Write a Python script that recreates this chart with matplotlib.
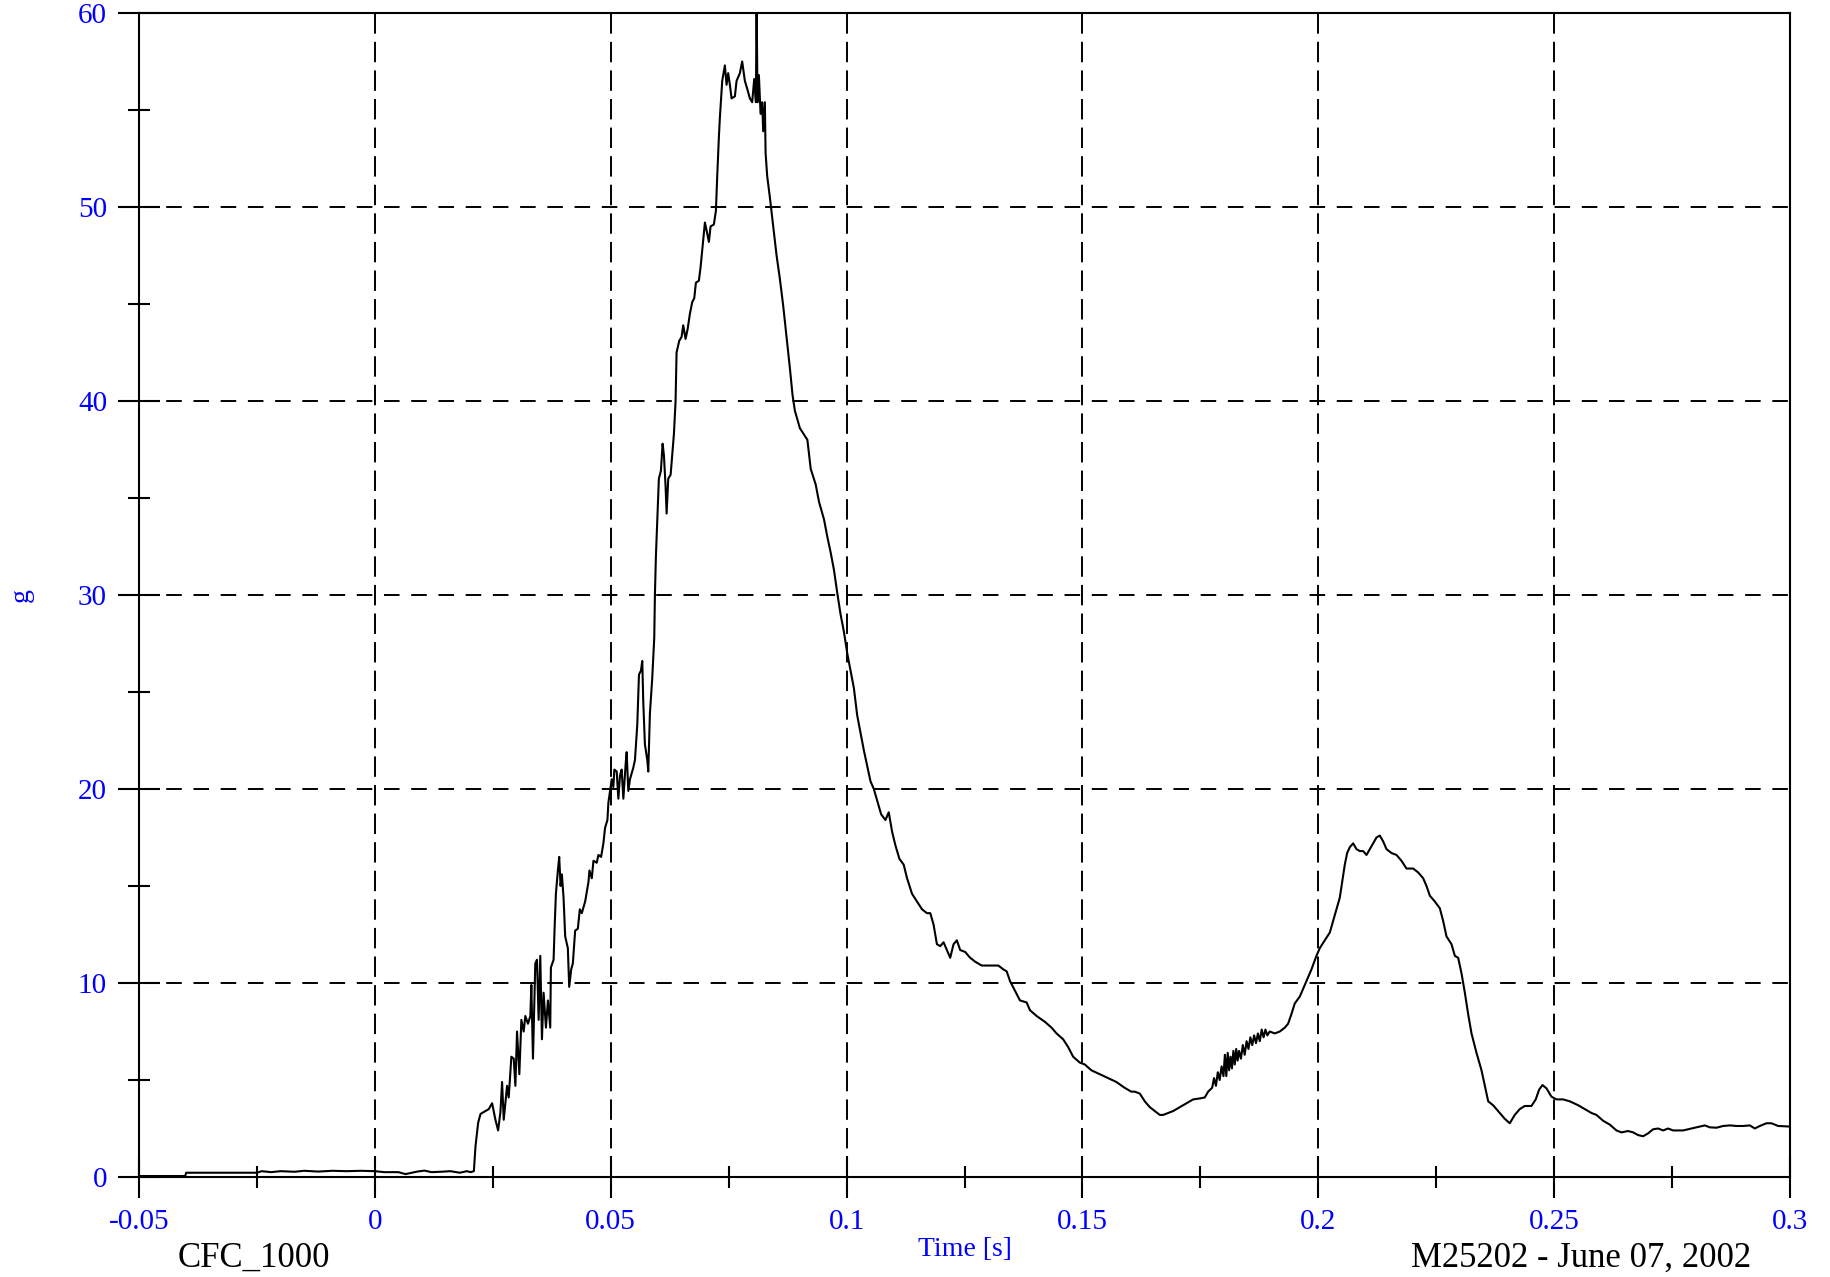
# Crash pulse trace (CFC_1000 filtered), g vs time

import numpy as np
import matplotlib.pyplot as plt
from matplotlib.ticker import MultipleLocator, FuncFormatter

plt.rcParams['font.family'] = ['Liberation Serif', 'DejaVu Serif']

t_base = [-0.05, -0.0402, -0.0400, -0.025, -0.024, -0.022, -0.020, -0.017, -0.015,
          -0.012, -0.009, -0.006, -0.003, 0.0, 0.002, 0.005, 0.0065, 0.009, 0.0105,
          0.012, 0.014, 0.016, 0.018, 0.0195, 0.0203]
g_base = [0.05, 0.05, 0.22, 0.22, 0.3, 0.25, 0.3, 0.27, 0.32,
          0.28, 0.32, 0.3, 0.32, 0.3, 0.25, 0.25, 0.15, 0.28, 0.33,
          0.25, 0.27, 0.3, 0.22, 0.3, 0.25]

t_rise = [0.02099, 0.02134, 0.0219, 0.0224, 0.02415, 0.02486, 0.02556, 0.02613, 0.02662,
          0.02697, 0.02732, 0.02803, 0.02838, 0.02894, 0.02944, 0.02979, 0.03014, 0.03063,
          0.03106, 0.03155, 0.0319, 0.03246, 0.03296, 0.03317, 0.03352, 0.03401, 0.03437,
          0.03472, 0.03507, 0.03542, 0.03577, 0.03627, 0.03669, 0.03718, 0.03732, 0.03789,
          0.0381, 0.03838, 0.0388, 0.03908, 0.03937, 0.03965, 0.04, 0.04035, 0.04091,
          0.0412, 0.04162, 0.04197, 0.04246, 0.04303, 0.04345, 0.04387, 0.04458, 0.04528,
          0.04549, 0.04599, 0.04634, 0.04704, 0.04739, 0.04796, 0.04845, 0.0488, 0.0493,
          0.04951, 0.04986, 0.05021, 0.05056, 0.05077, 0.05127, 0.05162, 0.05197, 0.05232,
          0.05268, 0.05317, 0.05338, 0.05373, 0.05408, 0.05479, 0.05514, 0.05563, 0.05599,
          0.05641, 0.05669, 0.0569, 0.05725, 0.05775, 0.05796, 0.05831, 0.0588, 0.05923]
g_rise = [0.3, 1.6, 2.8, 3.25, 3.5, 3.8, 2.95, 2.4, 3.35,
          4.9, 2.95, 4.7, 4.1, 6.2, 6.1, 4.7, 7.5, 5.3,
          8.1, 7.5, 8.3, 7.9, 8.3, 9.9, 6.1, 11.0, 11.2,
          8.1, 11.4, 7.1, 9.5, 7.7, 9.1, 7.7, 10.8, 11.2,
          12.8, 14.6, 15.8, 16.5, 15.0, 15.6, 14.4, 12.4, 11.8,
          9.8, 10.7, 11.0, 12.7, 12.8, 13.8, 13.6, 14.2, 15.2,
          15.8, 15.4, 16.3, 16.2, 16.6, 16.5, 17.2, 18.0, 18.4,
          19.3, 19.9, 20.5, 20.1, 21.0, 20.9, 19.5, 20.7, 21.0,
          19.5, 21.3, 21.9, 19.9, 20.5, 21.1, 21.5, 23.3, 25.9,
          26.1, 26.6, 24.5, 22.3, 21.5, 20.9, 23.9, 25.7, 27.8]

t_peak = [0.05937, 0.05958, 0.05986, 0.06021, 0.06064, 0.061, 0.06128, 0.06163, 0.06185,
          0.0622, 0.0627, 0.06304, 0.0634, 0.06375, 0.06396, 0.06452, 0.06502, 0.06537,
          0.06587, 0.0663, 0.06679, 0.06728, 0.06771, 0.06806, 0.06869, 0.06905, 0.06948,
          0.06997, 0.07032, 0.07081, 0.07117, 0.07187, 0.0723, 0.07258, 0.07293, 0.07314,
          0.07364, 0.0742, 0.07456, 0.0749, 0.07526, 0.07562, 0.07632, 0.07668, 0.07738,
          0.07787, 0.07844, 0.07893, 0.0795, 0.07999, 0.08042, 0.08078, 0.08092, 0.08113,
          0.08141, 0.08177, 0.08211, 0.08232, 0.08268, 0.08283, 0.08317, 0.08374, 0.08444,
          0.08516, 0.08586, 0.08657, 0.08728, 0.08798, 0.08855, 0.08904]
g_peak = [30.0, 32.0, 33.8, 36.0, 36.4, 37.8, 37.2, 35.6, 34.2,
          36.0, 36.2, 37.2, 38.3, 40.0, 42.5, 43.1, 43.3, 43.9,
          43.2, 43.7, 44.5, 45.1, 45.3, 46.1, 46.2, 46.9, 48.0,
          49.2, 48.8, 48.2, 49.0, 49.1, 49.8, 51.6, 53.6, 54.6,
          56.5, 57.3, 56.3, 56.9, 56.3, 55.6, 55.7, 56.5, 56.9,
          57.5, 56.5, 56.1, 55.6, 55.4, 56.6, 55.4, 60.5, 55.4,
          56.8, 54.8, 55.4, 53.9, 55.4, 52.8, 51.6, 50.5, 49.0,
          47.5, 46.3, 44.9, 43.3, 41.7, 40.3, 39.5]

t_fall = [0.0901, 0.09169, 0.0924, 0.09345, 0.09416, 0.09521, 0.09592, 0.09662, 0.09732,
          0.09803, 0.09873, 0.09944, 0.10014, 0.10085, 0.10155, 0.10225, 0.10296, 0.10366,
          0.10437, 0.10507, 0.10578, 0.10648, 0.10732, 0.10824, 0.10894, 0.10965, 0.11035,
          0.1112, 0.11211, 0.11282, 0.11387, 0.11493, 0.11599, 0.11704, 0.11775, 0.11845,
          0.11915, 0.11986, 0.12056, 0.12127, 0.12197, 0.12268, 0.12338, 0.12408, 0.12514,
          0.1262, 0.12725, 0.12866, 0.13077, 0.13218, 0.13324, 0.13394, 0.13465, 0.1357,
          0.13676, 0.13817, 0.13887, 0.14028, 0.14204, 0.14345, 0.14451, 0.14591, 0.14697,
          0.14803, 0.14943, 0.1505, 0.1519, 0.15366, 0.15542, 0.15718, 0.15894, 0.16035]
g_fall = [38.6, 38.0, 36.5, 35.7, 34.8, 33.9, 33.0, 32.2, 31.3,
          30.1, 29.0, 28.1, 27.0, 26.1, 25.2, 23.8, 22.9, 22.0,
          21.2, 20.4, 20.0, 19.4, 18.7, 18.4, 18.8, 17.8, 17.1,
          16.4, 16.1, 15.4, 14.6, 14.2, 13.8, 13.6, 13.6, 13.0,
          12.0, 11.9, 12.1, 11.7, 11.3, 12.0, 12.2, 11.7, 11.6,
          11.3, 11.1, 10.9, 10.9, 10.9, 10.7, 10.6, 10.1, 9.6,
          9.1, 9.0, 8.6, 8.3, 8.0, 7.7, 7.4, 7.1, 6.7,
          6.2, 5.9, 5.8, 5.5, 5.3, 5.1, 4.9, 4.6, 4.4]

t_bump = [0.1611, 0.16216, 0.16322, 0.16428, 0.16534, 0.1664, 0.16711, 0.16817, 0.16923,
          0.17064, 0.17205, 0.17347, 0.17488, 0.17594, 0.17665, 0.1775, 0.1779, 0.1783,
          0.1787, 0.1791, 0.1795, 0.1799, 0.1802, 0.1805, 0.1808, 0.1811, 0.1814,
          0.1817, 0.1820, 0.1823, 0.1826, 0.1829, 0.1832, 0.1836, 0.1840, 0.1844,
          0.1848, 0.1852, 0.1856, 0.1860, 0.1864, 0.1868, 0.1872, 0.1876, 0.1880,
          0.1884, 0.1888, 0.1892, 0.1897, 0.19078, 0.19184, 0.1929, 0.1936, 0.19431,
          0.19502, 0.19608, 0.19679,
          0.19749, 0.19855, 0.19961, 0.20032, 0.20138, 0.20244, 0.20315, 0.20385, 0.20456,
          0.20513, 0.20562, 0.20612, 0.20668, 0.20739, 0.2081, 0.2088, 0.20951, 0.21022,
          0.21092, 0.21163, 0.21234, 0.21304, 0.21375, 0.21446, 0.21552, 0.21658, 0.21764,
          0.2187, 0.22011, 0.22117, 0.22223, 0.22294, 0.22365, 0.22471, 0.22577, 0.22647,
          0.22718, 0.22824, 0.22895, 0.22965, 0.23036, 0.23107, 0.23177, 0.23248, 0.23354,
          0.2346, 0.23531, 0.23602]
g_bump = [4.4, 4.3, 3.9, 3.6, 3.4, 3.2, 3.2, 3.3, 3.4,
          3.6, 3.8, 4.0, 4.05, 4.1, 4.4, 4.6, 5.1, 4.7,
          5.4, 5.0, 5.7, 5.2, 6.3, 5.2, 6.4, 5.5, 6.2,
          5.6, 6.5, 5.8, 6.6, 6.0, 6.5, 6.1, 6.8, 6.3,
          7.0, 6.6, 7.2, 6.8, 7.3, 6.9, 7.4, 7.0, 7.6,
          7.2, 7.6, 7.3, 7.5, 7.4, 7.5, 7.7, 7.9, 8.4,
          8.95, 9.3, 9.7,
          10.1, 10.7, 11.4, 11.8, 12.2, 12.6, 13.2, 13.8, 14.4,
          15.3, 16.1, 16.7, 17.0, 17.2, 16.9, 16.8, 16.8, 16.6,
          16.9, 17.2, 17.5, 17.6, 17.3, 16.9, 16.7, 16.6, 16.3,
          15.9, 15.9, 15.7, 15.4, 15.0, 14.5, 14.2, 13.85, 13.2,
          12.4, 12.0, 11.4, 11.3, 10.5, 9.5, 8.4, 7.4, 6.4,
          5.5, 4.7, 3.9]

t_tail = [0.23706, 0.23847, 0.23953, 0.24059, 0.24165, 0.24271, 0.24377, 0.24518, 0.2461,
          0.24681, 0.24752, 0.24837, 0.24943, 0.25049, 0.2519, 0.25332, 0.25508, 0.25649,
          0.25791, 0.25897, 0.26038, 0.2618, 0.26321, 0.26427, 0.26568, 0.26674, 0.2678,
          0.26886, 0.26992, 0.27098, 0.27204, 0.2731, 0.27416, 0.27522, 0.27734, 0.27911,
          0.28088, 0.28194, 0.283, 0.28441, 0.28583, 0.28724, 0.28865, 0.29007, 0.29148,
          0.29254, 0.2936, 0.29501, 0.29607, 0.29749, 0.3]
g_tail = [3.7, 3.3, 3.0, 2.77, 3.2, 3.5, 3.66, 3.66, 4.0,
          4.5, 4.74, 4.57, 4.14, 4.0, 4.0, 3.9, 3.7, 3.5,
          3.3, 3.2, 2.9, 2.7, 2.4, 2.3, 2.37, 2.3, 2.16,
          2.1, 2.25, 2.46, 2.5, 2.4, 2.5, 2.4, 2.4, 2.5,
          2.6, 2.66, 2.56, 2.54, 2.63, 2.66, 2.63, 2.63, 2.66,
          2.5, 2.63, 2.77, 2.77, 2.63, 2.6]

time_s = np.concatenate([t_base, t_rise, t_peak, t_fall, t_bump, t_tail])
accel_g = np.concatenate([g_base, g_rise, g_peak, g_fall, g_bump, g_tail])

W, H = 1830, 1277
fig = plt.figure(figsize=(W / 100, H / 100), dpi=100)
ax = fig.add_axes([139 / W, 1 - 1177 / H, (1790 - 139) / W, (1177 - 13) / H])

ax.plot(time_s, accel_g, color='black', linewidth=1.5)

ax.set_xlim(-0.05, 0.3)
ax.set_ylim(0, 60)
ax.xaxis.set_major_locator(MultipleLocator(0.05))
ax.xaxis.set_minor_locator(MultipleLocator(0.025))
ax.yaxis.set_major_locator(MultipleLocator(10))
ax.yaxis.set_minor_locator(MultipleLocator(5))
ax.xaxis.set_major_formatter(FuncFormatter(lambda v, p: f"{v:g}" if abs(v) > 1e-9 else "0"))
ax.yaxis.set_major_formatter(FuncFormatter(lambda v, p: f"{v:g}"))

# dashed grid, vertical dashes are a bit longer than horizontal ones
ax.xaxis.grid(True, color='black', linewidth=1.4, linestyle=(0, (10.5, 4.2)))
ax.yaxis.grid(True, color='black', linewidth=1.4, linestyle=(0, (8.0, 6.0)))
ax.set_axisbelow(True)

for s in ax.spines.values():
    s.set_linewidth(1.5)
    s.set_color('black')

ax.tick_params(which='major', direction='inout', length=30, width=1.5,
               top=False, right=False, labelsize=21, labelcolor='blue')
ax.tick_params(which='minor', direction='inout', length=16, width=1.5,
               top=False, right=False)
ax.tick_params(axis='x', which='major', pad=8)
ax.tick_params(axis='y', which='major', pad=8)

ax.set_xlabel("Time [s]", fontsize=20, color='blue', va='center')
ax.xaxis.set_label_coords(0.5, -0.0627)
ax.set_ylabel("g", fontsize=20, color='blue', va='center')
ax.yaxis.set_label_coords(-0.0715, 0.5)

fig.text(254 / W, 1 - 1258 / H, "CFC_1000", fontsize=25, ha='center', va='center')
fig.text(1751 / W, 1 - 1258 / H, "M25202 - June 07, 2002", fontsize=25, ha='right', va='center')

fig.savefig("out.png", dpi=100)
